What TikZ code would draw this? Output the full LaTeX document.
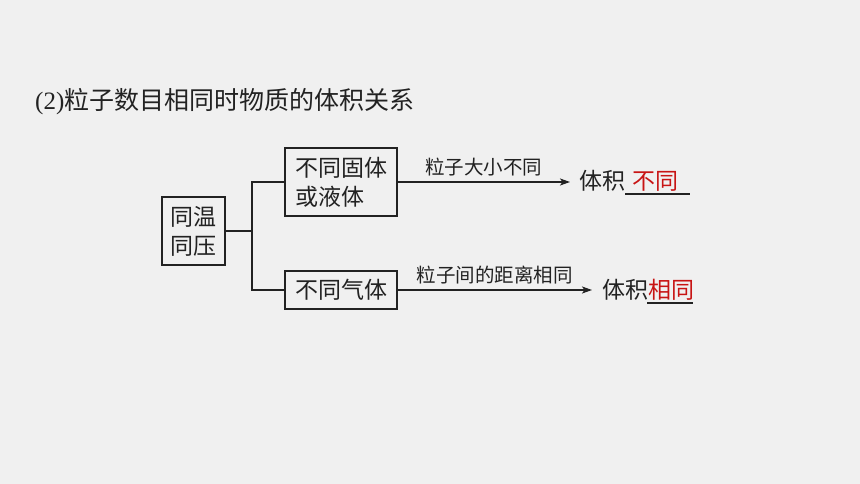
\documentclass[tikz,border=0pt]{standalone}
\usepackage{fontspec}
\setmainfont{Liberation Serif}
\newfontfamily\cjk{Noto Sans CJK SC}
\usetikzlibrary{arrows.meta}
\definecolor{bg}{HTML}{F0F0F0}
\definecolor{ink}{HTML}{222222}
\definecolor{redans}{HTML}{C81414}
\begin{document}
\begin{tikzpicture}[x=1pt,y=-1pt,
  boxnode/.style={draw=ink,line width=1.6pt,inner sep=0pt,font=\cjk\fontsize{23}{29}\selectfont,text=ink},
  conn/.style={draw=ink,line width=1.6pt},
  arr/.style={draw=ink,line width=1.6pt,-{Stealth[length=10pt,width=7pt,inset=2.5pt]}},
  lbl/.style={inner sep=0pt,font=\cjk\fontsize{19.5}{22}\selectfont,text=ink},
  res/.style={inner sep=0pt,anchor=west,font=\cjk\fontsize{23}{26}\selectfont,text=ink},
  ans/.style={inner sep=0pt,anchor=west,font=\cjk\fontsize{23}{26}\selectfont,text=redans},
  ul/.style={draw=ink,line width=1.6pt}]
\fill[bg] (0,0) rectangle (860,484);
\useasboundingbox (0,0) rectangle (860,484);
% title
\node[inner sep=0pt,anchor=west,text=ink] (title) at (35,102)
  {\fontsize{25}{30}\selectfont (2)\cjk 粒子数目相同时物质的体积关系};
% boxes
\node[boxnode,minimum width=63pt,minimum height=68pt,align=center] (b1) at (193.5,231) {同温\\同压};
\node[boxnode,minimum width=112pt,minimum height=68pt,align=left] (b2) at (341,182) {不同固体\\或液体};
\node[boxnode,minimum width=112pt,minimum height=38pt] (b3) at (341,290) {不同气体};
% junction
\coordinate (j) at (252,231);
\draw[conn] (b1.east) -- (j);
\draw[conn] (b2.west) -| (j) |- (b3.west);
% arrows
\coordinate (a1) at (570,182);
\coordinate (a2) at (592,290);
\draw[arr] (b2.east) -- node[lbl,above=5pt] (l1) {粒子大小不同} (a1);
\draw[arr] (b3.east) -- node[lbl,above=5pt] (l2) {粒子间的距离相同} (a2);
% results
\node[res] (r1) at (579,181) {体积};
\node[ans] (s1) at (632,181) {不同};
\coordinate (u1s) at (625,194);
\coordinate (u1e) at (690,194);
\draw[ul] (u1s) -- (u1e);
\node[res] (r2) at (602,290) {体积};
\node[ans] (s2) at (r2.east) {相同};
\coordinate (u2s) at (647,303);
\coordinate (u2e) at (693,303);
\draw[ul] (u2s) -- (u2e);
\end{tikzpicture}
\end{document}
